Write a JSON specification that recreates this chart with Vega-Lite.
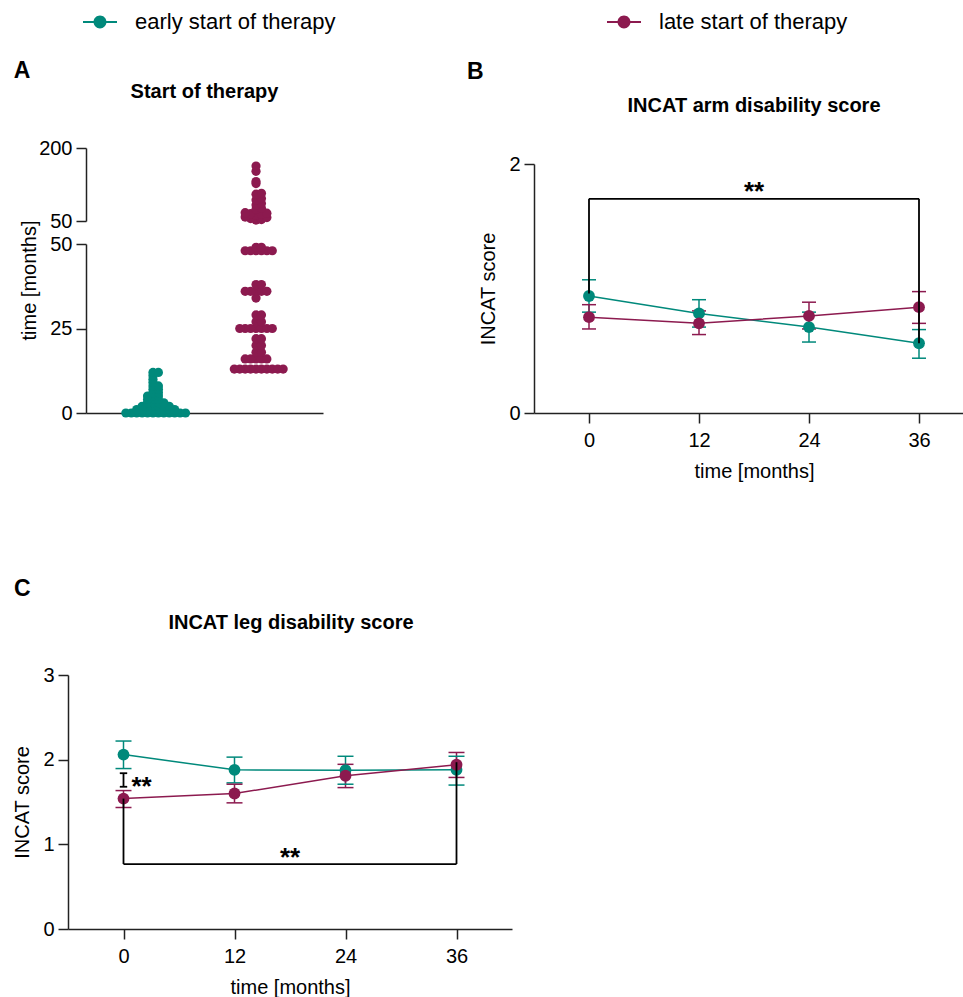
{
  "$schema": "https://vega.github.io/schema/vega-lite/v6.json",
  "padding": {"left": 12, "top": 5, "right": 0, "bottom": 0},
  "datasets": {
    "start": [
      {"group": "early start of therapy", "time": 0}, {"group": "early start of therapy", "time": 0}, {"group": "early start of therapy", "time": 0}, {"group": "early start of therapy", "time": 0},
      {"group": "early start of therapy", "time": 0}, {"group": "early start of therapy", "time": 0}, {"group": "early start of therapy", "time": 0}, {"group": "early start of therapy", "time": 0},
      {"group": "early start of therapy", "time": 0}, {"group": "early start of therapy", "time": 0}, {"group": "early start of therapy", "time": 0}, {"group": "early start of therapy", "time": 0},
      {"group": "early start of therapy", "time": 1}, {"group": "early start of therapy", "time": 1}, {"group": "early start of therapy", "time": 1}, {"group": "early start of therapy", "time": 1},
      {"group": "early start of therapy", "time": 1}, {"group": "early start of therapy", "time": 1}, {"group": "early start of therapy", "time": 1}, {"group": "early start of therapy", "time": 1},
      {"group": "early start of therapy", "time": 2}, {"group": "early start of therapy", "time": 2}, {"group": "early start of therapy", "time": 2}, {"group": "early start of therapy", "time": 2},
      {"group": "early start of therapy", "time": 2}, {"group": "early start of therapy", "time": 2},
      {"group": "early start of therapy", "time": 3}, {"group": "early start of therapy", "time": 3}, {"group": "early start of therapy", "time": 3}, {"group": "early start of therapy", "time": 3},
      {"group": "early start of therapy", "time": 4}, {"group": "early start of therapy", "time": 4}, {"group": "early start of therapy", "time": 4},
      {"group": "early start of therapy", "time": 5}, {"group": "early start of therapy", "time": 5}, {"group": "early start of therapy", "time": 5},
      {"group": "early start of therapy", "time": 6}, {"group": "early start of therapy", "time": 6},
      {"group": "early start of therapy", "time": 7}, {"group": "early start of therapy", "time": 7},
      {"group": "early start of therapy", "time": 8}, {"group": "early start of therapy", "time": 8},
      {"group": "early start of therapy", "time": 9}, {"group": "early start of therapy", "time": 10}, {"group": "early start of therapy", "time": 11},
      {"group": "early start of therapy", "time": 12}, {"group": "early start of therapy", "time": 12},
      {"group": "late start of therapy", "time": 13}, {"group": "late start of therapy", "time": 13}, {"group": "late start of therapy", "time": 13}, {"group": "late start of therapy", "time": 13},
      {"group": "late start of therapy", "time": 13}, {"group": "late start of therapy", "time": 13}, {"group": "late start of therapy", "time": 13}, {"group": "late start of therapy", "time": 13},
      {"group": "late start of therapy", "time": 13}, {"group": "late start of therapy", "time": 13},
      {"group": "late start of therapy", "time": 16}, {"group": "late start of therapy", "time": 16}, {"group": "late start of therapy", "time": 16}, {"group": "late start of therapy", "time": 16}, {"group": "late start of therapy", "time": 16},
      {"group": "late start of therapy", "time": 18}, {"group": "late start of therapy", "time": 18},
      {"group": "late start of therapy", "time": 20}, {"group": "late start of therapy", "time": 20},
      {"group": "late start of therapy", "time": 22}, {"group": "late start of therapy", "time": 22},
      {"group": "late start of therapy", "time": 25}, {"group": "late start of therapy", "time": 25}, {"group": "late start of therapy", "time": 25}, {"group": "late start of therapy", "time": 25},
      {"group": "late start of therapy", "time": 25}, {"group": "late start of therapy", "time": 25}, {"group": "late start of therapy", "time": 25},
      {"group": "late start of therapy", "time": 27}, {"group": "late start of therapy", "time": 27},
      {"group": "late start of therapy", "time": 29}, {"group": "late start of therapy", "time": 29},
      {"group": "late start of therapy", "time": 34},
      {"group": "late start of therapy", "time": 36}, {"group": "late start of therapy", "time": 36}, {"group": "late start of therapy", "time": 36}, {"group": "late start of therapy", "time": 36}, {"group": "late start of therapy", "time": 36},
      {"group": "late start of therapy", "time": 38}, {"group": "late start of therapy", "time": 38},
      {"group": "late start of therapy", "time": 48}, {"group": "late start of therapy", "time": 48}, {"group": "late start of therapy", "time": 48}, {"group": "late start of therapy", "time": 48},
      {"group": "late start of therapy", "time": 48}, {"group": "late start of therapy", "time": 48},
      {"group": "late start of therapy", "time": 49}, {"group": "late start of therapy", "time": 49},
      {"group": "late start of therapy", "time": 52}, {"group": "late start of therapy", "time": 53}, {"group": "late start of therapy", "time": 55}, {"group": "late start of therapy", "time": 57},
      {"group": "late start of therapy", "time": 58}, {"group": "late start of therapy", "time": 62}, {"group": "late start of therapy", "time": 64}, {"group": "late start of therapy", "time": 65},
      {"group": "late start of therapy", "time": 66}, {"group": "late start of therapy", "time": 67}, {"group": "late start of therapy", "time": 74}, {"group": "late start of therapy", "time": 76},
      {"group": "late start of therapy", "time": 83}, {"group": "late start of therapy", "time": 86}, {"group": "late start of therapy", "time": 93}, {"group": "late start of therapy", "time": 96},
      {"group": "late start of therapy", "time": 105}, {"group": "late start of therapy", "time": 107}, {"group": "late start of therapy", "time": 127}, {"group": "late start of therapy", "time": 131},
      {"group": "late start of therapy", "time": 152}, {"group": "late start of therapy", "time": 163}
    ],
    "arm": [
      {"group": "early start of therapy", "month": 0, "mean": 0.94, "lo": 0.81, "hi": 1.07},
      {"group": "early start of therapy", "month": 12, "mean": 0.8, "lo": 0.69, "hi": 0.91},
      {"group": "early start of therapy", "month": 24, "mean": 0.69, "lo": 0.57, "hi": 0.81},
      {"group": "early start of therapy", "month": 36, "mean": 0.56, "lo": 0.44, "hi": 0.67},
      {"group": "late start of therapy", "month": 0, "mean": 0.77, "lo": 0.675, "hi": 0.87},
      {"group": "late start of therapy", "month": 12, "mean": 0.72, "lo": 0.63, "hi": 0.82},
      {"group": "late start of therapy", "month": 24, "mean": 0.78, "lo": 0.675, "hi": 0.89},
      {"group": "late start of therapy", "month": 36, "mean": 0.85, "lo": 0.72, "hi": 0.975}
    ],
    "leg": [
      {"group": "early start of therapy", "month": 0, "mean": 2.06, "lo": 1.895, "hi": 2.22},
      {"group": "early start of therapy", "month": 12, "mean": 1.88, "lo": 1.726, "hi": 2.03},
      {"group": "early start of therapy", "month": 24, "mean": 1.875, "lo": 1.71, "hi": 2.04},
      {"group": "early start of therapy", "month": 36, "mean": 1.88, "lo": 1.7, "hi": 2.04},
      {"group": "late start of therapy", "month": 0, "mean": 1.54, "lo": 1.435, "hi": 1.635},
      {"group": "late start of therapy", "month": 12, "mean": 1.6, "lo": 1.49, "hi": 1.71},
      {"group": "late start of therapy", "month": 24, "mean": 1.81, "lo": 1.67, "hi": 1.945},
      {"group": "late start of therapy", "month": 36, "mean": 1.94, "lo": 1.79, "hi": 2.085}
    ],
    "armAnno": [
      {"x": 0, "x2": 36, "y": 1.72, "y2": 1.72},
      {"x": 0, "x2": 0, "y": 0.96, "y2": 1.72},
      {"x": 36, "x2": 36, "y": 0.56, "y2": 1.72}
    ],
    "legAnno": [
      {"x": 0, "x2": 36, "y": 0.767, "y2": 0.767},
      {"x": 0, "x2": 0, "y": 0.767, "y2": 1.54},
      {"x": 36, "x2": 36, "y": 0.767, "y2": 1.97},
      {"x": 0, "x2": 0, "y": 1.68, "y2": 1.84},
      {"x": -0.4, "x2": 0.4, "y": 1.68, "y2": 1.68},
      {"x": -0.4, "x2": 0.4, "y": 1.84, "y2": 1.84}
    ],
    "armStars": [{"x": 18, "y": 1.71, "label": "**"}],
    "legStars": [{"x": 18, "y": 0.74, "label": "**"}, {"x": 1.95, "y": 1.58, "label": "**"}]
  },
  "config": {
    "font": "Liberation Sans",
    "view": {"stroke": null},
    "axis": {
      "labelFont": "Liberation Sans", "labelFontSize": 20, "labelColor": "black",
      "titleFont": "Liberation Sans", "titleFontSize": 20, "titleFontWeight": "normal", "titleColor": "black",
      "tickSize": 10, "tickColor": "#222", "tickWidth": 1.5, "domainColor": "#222", "domainWidth": 1.5,
      "grid": false, "labelPadding": 4, "titlePadding": 10
    },
    "axisX": {"labelPadding": 7, "titlePadding": 11},
    "title": {"font": "Liberation Sans", "fontSize": 20, "fontWeight": "bold", "color": "black"}
  },
  "spacing": 97,
  "vconcat": [
    {
      "spacing": 143,
      "hconcat": [
        {
          "title": {"text": "A", "anchor": "start", "fontSize": 23, "dx": -6, "offset": -1},
          "bounds": "flush",
          "spacing": 23,
          "vconcat": [
            {
              "title": {"text": "Start of therapy", "anchor": "middle", "frame": "group", "offset": 36},
              "width": 237, "height": 73,
              "data": {"name": "start"},
              "transform": [
                {"filter": "datum.time > 50"},
                {"bin": {"step": 10, "extent": [50, 200]}, "field": "time", "as": "tb"},
                {"window": [{"op": "row_number", "as": "rank"}], "groupby": ["group", "tb"], "sort": [{"field": "time"}]}
              ],
              "mark": {"type": "point", "filled": true, "size": 85, "opacity": 1},
              "encoding": {
                "x": {"field": "group", "type": "nominal", "scale": {"type": "band", "domain": ["early start of therapy", "late start of therapy"], "paddingInner": 0, "paddingOuter": 0.15}, "axis": null},
                "xOffset": {"field": "rank", "type": "ordinal", "scale": {"domain": [19, 17, 15, 13, 11, 9, 7, 5, 3, 1, 2, 4, 6, 8, 10, 12, 14, 16, 18]}},
                "y": {"field": "time", "type": "quantitative", "scale": {"domain": [50, 200], "nice": false}, "axis": {"values": [50, 200], "title": null}},
                "color": {
                  "field": "group", "type": "nominal",
                  "scale": {"domain": ["early start of therapy", "late start of therapy"], "range": ["#00897B", "#8C1A4F"]},
                  "legend": {
                    "title": null, "orient": "none", "legendX": -3, "legendY": -143, "direction": "horizontal", "columns": 2, "columnPadding": 271,
                    "symbolType": "M-1,-0.06H1V0.06H-1Z M0.38,0A0.38,0.38,0,1,1,-0.38,0A0.38,0.38,0,1,1,0.38,0Z",
                    "symbolSize": 1156, "symbolStrokeWidth": 0, "symbolOpacity": 1,
                    "labelFontSize": 22, "labelFont": "Liberation Sans", "labelColor": "black", "labelLimit": 400, "labelOffset": 18
                  }
                }
              }
            },
            {
              "width": 237, "height": 169,
              "data": {"name": "start"},
              "transform": [
                {"filter": "datum.time <= 50"},
                {"window": [{"op": "row_number", "as": "rank"}], "groupby": ["group", "time"]}
              ],
              "mark": {"type": "point", "filled": true, "size": 85, "opacity": 1},
              "encoding": {
                "x": {"field": "group", "type": "nominal", "scale": {"type": "band", "domain": ["early start of therapy", "late start of therapy"], "paddingInner": 0, "paddingOuter": 0.15}, "axis": {"labels": false, "ticks": false, "title": null, "domain": true}},
                "xOffset": {"field": "rank", "type": "ordinal", "scale": {"domain": [19, 17, 15, 13, 11, 9, 7, 5, 3, 1, 2, 4, 6, 8, 10, 12, 14, 16, 18]}},
                "y": {"field": "time", "type": "quantitative", "scale": {"domain": [0, 50], "nice": false}, "axis": {"values": [0, 25, 50], "title": "time [months]", "titleY": 36}},
                "color": {"field": "group", "type": "nominal", "legend": null}
              }
            }
          ]
        },
        {
          "title": {"text": "B", "anchor": "start", "fontSize": 23, "dx": -12, "offset": 12},
          "vconcat": [
            {
              "title": {"text": "INCAT arm disability score", "anchor": "middle", "frame": "group", "offset": 32},
              "width": 440, "height": 265,
              "layer": [
                {
                  "data": {"name": "arm"},
                  "mark": {"type": "rule", "strokeWidth": 1.5},
                  "encoding": {
                    "x": {"field": "month", "type": "quantitative", "title": "time [months]", "scale": {"domain": [-6, 42], "nice": false}, "axis": {"values": [0, 12, 24, 36]}},
                    "y": {"field": "lo", "type": "quantitative", "title": "INCAT score", "scale": {"domain": [0, 2], "range": [265, 16], "nice": false}, "axis": {"values": [0, 1, 2], "format": "d"}},
                    "y2": {"field": "hi"},
                    "color": {"field": "group", "type": "nominal", "legend": null}
                  }
                },
                {
                  "data": {"name": "arm"},
                  "mark": {"type": "tick", "orient": "horizontal", "size": 14, "thickness": 1.5, "opacity": 1},
                  "encoding": {
                    "x": {"field": "month", "type": "quantitative", "title": "time [months]"},
                    "y": {"field": "lo", "type": "quantitative", "title": "INCAT score"},
                    "color": {"field": "group", "type": "nominal", "legend": null}
                  }
                },
                {
                  "data": {"name": "arm"},
                  "mark": {"type": "tick", "orient": "horizontal", "size": 14, "thickness": 1.5, "opacity": 1},
                  "encoding": {
                    "x": {"field": "month", "type": "quantitative", "title": "time [months]"},
                    "y": {"field": "hi", "type": "quantitative", "title": "INCAT score"},
                    "color": {"field": "group", "type": "nominal", "legend": null}
                  }
                },
                {
                  "data": {"name": "arm"},
                  "mark": {"type": "line", "strokeWidth": 1.5},
                  "encoding": {
                    "x": {"field": "month", "type": "quantitative", "title": "time [months]"},
                    "y": {"field": "mean", "type": "quantitative", "title": "INCAT score"},
                    "color": {"field": "group", "type": "nominal", "legend": null}
                  }
                },
                {
                  "data": {"name": "arm"},
                  "mark": {"type": "point", "filled": true, "size": 140, "opacity": 1},
                  "encoding": {
                    "x": {"field": "month", "type": "quantitative", "title": "time [months]"},
                    "y": {"field": "mean", "type": "quantitative", "title": "INCAT score"},
                    "color": {"field": "group", "type": "nominal", "legend": null}
                  }
                },
                {
                  "data": {"name": "armAnno"},
                  "mark": {"type": "rule", "color": "black", "strokeWidth": 1.8},
                  "encoding": {
                    "x": {"field": "x", "type": "quantitative", "title": "time [months]"},
                    "x2": {"field": "x2"},
                    "y": {"field": "y", "type": "quantitative", "title": "INCAT score"},
                    "y2": {"field": "y2"}
                  }
                },
                {
                  "data": {"name": "armStars"},
                  "mark": {"type": "text", "fontSize": 26, "fontWeight": "bold", "baseline": "alphabetic", "align": "center", "color": "black"},
                  "encoding": {
                    "x": {"field": "x", "type": "quantitative", "title": "time [months]"},
                    "y": {"field": "y", "type": "quantitative", "title": "INCAT score"},
                    "text": {"field": "label"}
                  }
                }
              ]
            }
          ]
        }
      ]
    },
    {
      "title": {"text": "C", "anchor": "start", "fontSize": 23, "dx": 1, "offset": 12},
      "vconcat": [
        {
          "title": {"text": "INCAT leg disability score", "anchor": "middle", "frame": "group", "offset": 32, "dx": -8},
          "width": 426, "height": 254,
          "layer": [
            {
              "data": {"name": "leg"},
              "mark": {"type": "rule", "strokeWidth": 1.5},
              "encoding": {
                "x": {"field": "month", "type": "quantitative", "title": "time [months]", "scale": {"domain": [-6, 42], "range": [-18, 426], "nice": false}, "axis": {"values": [0, 12, 24, 36]}},
                "y": {"field": "lo", "type": "quantitative", "title": "INCAT score", "scale": {"domain": [0, 3], "nice": false}, "axis": {"values": [0, 1, 2, 3], "format": "d", "offset": 18}},
                "y2": {"field": "hi"},
                "color": {"field": "group", "type": "nominal", "legend": null}
              }
            },
            {
              "data": {"name": "leg"},
              "mark": {"type": "tick", "orient": "horizontal", "size": 16, "thickness": 1.5, "opacity": 1},
              "encoding": {
                "x": {"field": "month", "type": "quantitative", "title": "time [months]"},
                "y": {"field": "lo", "type": "quantitative", "title": "INCAT score"},
                "color": {"field": "group", "type": "nominal", "legend": null}
              }
            },
            {
              "data": {"name": "leg"},
              "mark": {"type": "tick", "orient": "horizontal", "size": 16, "thickness": 1.5, "opacity": 1},
              "encoding": {
                "x": {"field": "month", "type": "quantitative", "title": "time [months]"},
                "y": {"field": "hi", "type": "quantitative", "title": "INCAT score"},
                "color": {"field": "group", "type": "nominal", "legend": null}
              }
            },
            {
              "data": {"name": "leg"},
              "mark": {"type": "line", "strokeWidth": 1.5},
              "encoding": {
                "x": {"field": "month", "type": "quantitative", "title": "time [months]"},
                "y": {"field": "mean", "type": "quantitative", "title": "INCAT score"},
                "color": {"field": "group", "type": "nominal", "legend": null}
              }
            },
            {
              "data": {"name": "leg"},
              "mark": {"type": "point", "filled": true, "size": 140, "opacity": 1},
              "encoding": {
                "x": {"field": "month", "type": "quantitative", "title": "time [months]"},
                "y": {"field": "mean", "type": "quantitative", "title": "INCAT score"},
                "color": {"field": "group", "type": "nominal", "legend": null}
              }
            },
            {
              "data": {"name": "legAnno"},
              "mark": {"type": "rule", "color": "black", "strokeWidth": 1.8},
              "encoding": {
                "x": {"field": "x", "type": "quantitative", "title": "time [months]"},
                "x2": {"field": "x2"},
                "y": {"field": "y", "type": "quantitative", "title": "INCAT score"},
                "y2": {"field": "y2"}
              }
            },
            {
              "data": {"name": "legStars"},
              "mark": {"type": "text", "fontSize": 26, "fontWeight": "bold", "baseline": "alphabetic", "align": "center", "color": "black"},
              "encoding": {
                "x": {"field": "x", "type": "quantitative", "title": "time [months]"},
                "y": {"field": "y", "type": "quantitative", "title": "INCAT score"},
                "text": {"field": "label"}
              }
            }
          ]
        }
      ]
    }
  ]
}
